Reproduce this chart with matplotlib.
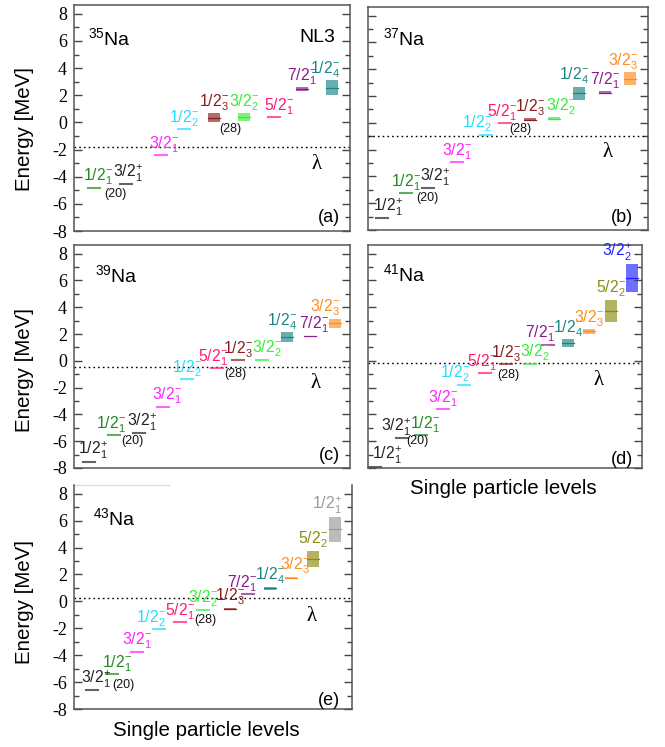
import matplotlib
matplotlib.use("Agg")
import matplotlib.pyplot as plt
from matplotlib.patches import Rectangle
from matplotlib.ticker import MultipleLocator

plt.rcParams['font.family'] = ['Liberation Sans', 'DejaVu Sans']
plt.rcParams['mathtext.fontset'] = 'custom'
plt.rcParams['mathtext.rm'] = 'Liberation Sans'
plt.rcParams['mathtext.it'] = 'Liberation Sans:italic'
plt.rcParams['mathtext.bf'] = 'Liberation Sans:bold'
plt.rcParams['axes.unicode_minus'] = False

# ---------------- data ----------------
C = {
    'k': '#222222', 'g': '#1e8c1e', 'm': '#ff22ff', 'c': '#22ddff', 'br': '#8b1c1c',
    'l': '#33ee33', 'p': '#ff1a75', 'pu': '#8b1a8b', 't': '#1a8585', 'o': '#ff8c1a',
    'ol': '#8b8b10', 'b': '#2020ff', 'gr': '#999999',
}

# panel (a) 35Na
a_states = ['1/2-_1', '3/2+_1', '3/2-_1', '1/2-_2', '1/2-_3', '3/2-_2', '5/2-_1', '7/2-_1', '1/2-_4']
a_colors = ['g', 'k', 'm', 'c', 'br', 'l', 'p', 'pu', 't']
a_x = [7.2, 18.8, 31.5, 39.9, 50.7, 61.6, 72.5, 82.6, 93.5]
a_E = [-4.8, -4.55, -2.4, -0.5, 0.34, 0.38, 0.40, 2.45, 2.57]
a_W = [0, 0, 0, 0, 0.65, 0.6, 0, 0.25, 1.08]
a_lam = -1.8

# panel (b) 37Na
b_states = ['1/2+_1', '1/2-_1', '3/2+_1', '3/2-_1', '1/2-_2', '5/2-_1', '1/2-_3', '3/2-_2', '1/2-_4', '7/2-_1', '3/2-_3']
b_colors = ['k', 'g', 'k', 'm', 'c', 'p', 'br', 'l', 't', 'pu', 'o']
b_x = [5.0, 13.6, 21.4, 31.8, 42.1, 48.9, 57.9, 66.4, 75.4, 84.6, 93.6]
b_E = [-7.1, -5.25, -4.85, -2.96, -0.87, 0.0, 0.23, 0.3, 2.2, 2.25, 3.3]
b_W = [0, 0, 0, 0, 0, 0, 0.2, 0.2, 1.0, 0.2, 1.0]
b_lam = -1.0

# panel (c) 39Na
c_states = ['1/2+_1', '1/2-_1', '3/2+_1', '3/2-_1', '1/2-_2', '5/2-_1', '1/2-_3', '3/2-_2', '1/2-_4', '7/2-_1', '3/2-_3']
c_colors = ['k', 'g', 'k', 'm', 'c', 'p', 'br', 'l', 't', 'pu', 'o']
c_x = [5.4, 14.5, 23.6, 32.2, 40.9, 51.8, 59.4, 68.1, 77.2, 85.5, 94.6]
c_E = [-7.53, -5.56, -5.38, -3.41, -1.36, -0.57, 0.05, 0.1, 1.78, 1.83, 2.81]
c_W = [0, 0, 0, 0, 0, 0, 0, 0, 0.74, 0.1, 0.67]
c_lam = -0.49

# panel (d) 41Na
d_states = ['1/2+_1', '3/2+_1', '1/2-_1', '3/2-_1', '1/2-_2', '5/2-_1', '1/2-_3', '3/2-_2', '7/2-_1', '1/2-_4', '3/2-_3', '5/2-_2', '3/2+_2']
d_colors = ['k', 'k', 'g', 'm', 'c', 'p', 'br', 'l', 'pu', 't', 'o', 'ol', 'b']
d_x = [2.6, 12.4, 19.3, 27.4, 35.0, 42.7, 50.4, 59.1, 65.7, 73.0, 80.7, 88.7, 96.4]
d_E = [-7.9, -5.77, -5.57, -3.62, -1.78, -0.93, -0.27, -0.2, 1.22, 1.34, 2.2, 3.72, 6.21]
d_W = [0, 0, 0, 0, 0, 0, 0, 0, 0, 0.6, 0.37, 1.71, 2.08]
d_lam = -0.15

# panel (e) 43Na
e_states = ['3/2+_1', '1/2-_1', '3/2-_1', '1/2-_2', '5/2-_1', '3/2-_2', '1/2-_3', '7/2-_1', '1/2-_4', '3/2-_3', '5/2-_2', '1/2+_1']
e_colors = ['k', 'g', 'm', 'c', 'p', 'l', 'br', 'pu', 't', 'o', 'ol', 'gr']
e_x = [6.5, 13.7, 22.7, 30.6, 38.1, 46.4, 56.1, 62.6, 70.5, 78.1, 86.0, 93.9]
e_E = [-6.6, -5.4, -3.74, -2.08, -1.54, -0.61, -0.56, 0.54, 0.98, 1.76, 3.18, 5.35]
e_W = [0, 0, 0, 0, 0, 0, 0.2, 0, 0.22, 0.15, 1.2, 1.88]
e_lam = 0.22

nuclei = ['35', '37', '39', '41', '43']
tags = ['(a)', '(b)', '(c)', '(d)', '(e)']
shell20_pos = [(15.0, -5.27), (21.2, -5.6), (21.0, -5.95), (18.2, -6.0), (17.6, -6.2)]
shell28_pos = [(56.5, -0.48), (54.3, -0.48), (58.3, -1.01), (51.1, -1.08), (47.1, -1.42)]
lam_label_pos = [(88.0, -3.1), (85.4, -2.25), (87.7, -1.7), (84.3, -1.5), (85.3, -1.1)]

panels = [
    (a_states, a_colors, a_x, a_E, a_W, a_lam),
    (b_states, b_colors, b_x, b_E, b_W, b_lam),
    (c_states, c_colors, c_x, c_E, c_W, c_lam),
    (d_states, d_colors, d_x, d_E, d_W, d_lam),
    (e_states, e_colors, e_x, e_E, e_W, e_lam),
]

# ---------------- layout / style ----------------
W, H = 665, 747
fig = plt.figure(figsize=(W / 100, H / 100), dpi=100)

def px_axes(l, t, r, b):
    return fig.add_axes([l / W, 1 - b / H, (r - l) / W, (b - t) / H])

boxes = [(74, 5, 350, 231), (368, 7, 648, 230), (74, 245, 350, 468), (368, 245, 642, 468), (74, 485, 352, 709)]
tag_pos = [(0.964, 0.058), (0.946, 0.058), (0.964, 0.058), (0.967, 0.036), (0.957, 0.04)]
na_pos = [(0.05, 0.854), (0.054, 0.861), (0.076, 0.865), (0.055, 0.87), (0.068, 0.853)]
# small horizontal nudges of individual level labels: (panel, index) -> dx
label_nudge = {
    (0, 0): 1.6, (0, 1): 0.9, (0, 2): 1.0, (0, 6): 1.6, (0, 8): -1.4,
    (1, 2): 2.5, (1, 4): -3.2, (1, 5): -1.0, (1, 7): 2.5, (1, 8): -1.8,
    (2, 1): -1.0, (2, 2): 1.0, (2, 3): 1.4, (2, 5): -1.4, (2, 7): 1.8, (2, 8): -1.8, (2, 9): 1.4,
    (3, 1): -2.2, (3, 2): 1.5, (3, 4): -3.3, (3, 5): -1.0, (3, 7): 1.8, (3, 8): -2.9,
    (4, 0): 1.5, (4, 1): 1.8, (4, 3): -2.9, (4, 7): -2.2, (4, 9): 1.4,
}


def state_label(s):
    frac, rest = s[:3], s[3:]
    parity, idx = rest.split('_')
    sign = '-' if parity == '-' else '+'
    return r'$\mathregular{%s^{%s}_{%s}}$' % (frac, sign, idx)


HW = 2.1  # half width of a level marker
for i, (box, (states, cols, xs, Es, Ws, lam)) in enumerate(zip(boxes, panels)):
    ax = px_axes(*box)
    ax.set_xlim(0, 100)
    ax.set_ylim(-8, 8.65)
    ax.set_xticks([])
    ax.yaxis.set_major_locator(MultipleLocator(2))
    ax.yaxis.set_minor_locator(MultipleLocator(1))
    ax.tick_params(axis='y', which='both', direction='in', left=True, right=True,
                   color='#444444', width=1.0)
    ax.tick_params(axis='y', which='major', length=5.5, labelsize=13, pad=5)
    ax.tick_params(axis='y', which='minor', length=3.5)
    for lab in ax.get_yticklabels():
        lab.set_fontfamily('Liberation Serif')
    if i in (1, 3):
        ax.tick_params(axis='y', which='both', labelleft=False)
    for sp in ax.spines.values():
        sp.set_color('#555555')
        sp.set_linewidth(1.1)
    if i == 4:
        ax.spines['top'].set_visible(False)
        ax.plot([0, 0.34], [1, 1], transform=ax.transAxes, color='#dddddd', lw=1.0, clip_on=False)

    # Fermi level
    ax.axhline(lam, color='black', lw=1.0, linestyle=(0, (1.2, 2.2)))
    lx, ly = lam_label_pos[i]
    ax.text(lx, ly, 'λ', fontsize=15, family='Liberation Serif', ha='center', va='center')

    for j, (s, ck, x, E, w) in enumerate(zip(states, cols, xs, Es, Ws)):
        col = C[ck]
        if w > 0:
            ax.add_patch(Rectangle((x - HW, E - w / 2), 2 * HW, w, facecolor=col,
                                   alpha=0.65, edgecolor='none'))
            ax.plot([x - HW, x + HW], [E, E], color=col, lw=0.9)
            top = E + w / 2
        else:
            ax.plot([x - HW, x + HW], [E, E], color=col, lw=1.5, alpha=0.7)
            top = E
        lxp = min(max(x + label_nudge.get((i, j), 0.0), 7.0), 91.0)
        ax.text(lxp, top + 0.02, state_label(s), color=col, fontsize=11.3,
                ha='center', va='bottom')

    sx, sy = shell20_pos[i]
    ax.text(sx, sy, '(20)', fontsize=9, ha='center', va='center', color='#111111')
    sx, sy = shell28_pos[i]
    ax.text(sx, sy, '(28)', fontsize=9, ha='center', va='center', color='#111111')

    nx, ny = na_pos[i]
    ax.text(nx, ny, r'$\mathregular{^{%s}}$Na' % nuclei[i], transform=ax.transAxes,
            fontsize=14, ha='left', va='center')
    tx, ty = tag_pos[i]
    ax.text(tx, ty, tags[i], transform=ax.transAxes, fontsize=13, ha='right', va='center')
    if i == 0:
        ax.text(0.946, 0.854, 'NL3', transform=ax.transAxes, fontsize=14, ha='right', va='center')

for yc in (129, 370, 602):
    fig.text(25 / W, 1 - yc / H, 'Energy [MeV]', rotation=90, fontsize=14.8,
             ha='center', va='center')
fig.text(503 / W, 1 - 489 / H, 'Single particle levels', fontsize=14.8, ha='center', va='center')
fig.text(206 / W, 1 - 730 / H, 'Single particle levels', fontsize=14.8, ha='center', va='center')

fig.savefig('out.png', dpi=100)
